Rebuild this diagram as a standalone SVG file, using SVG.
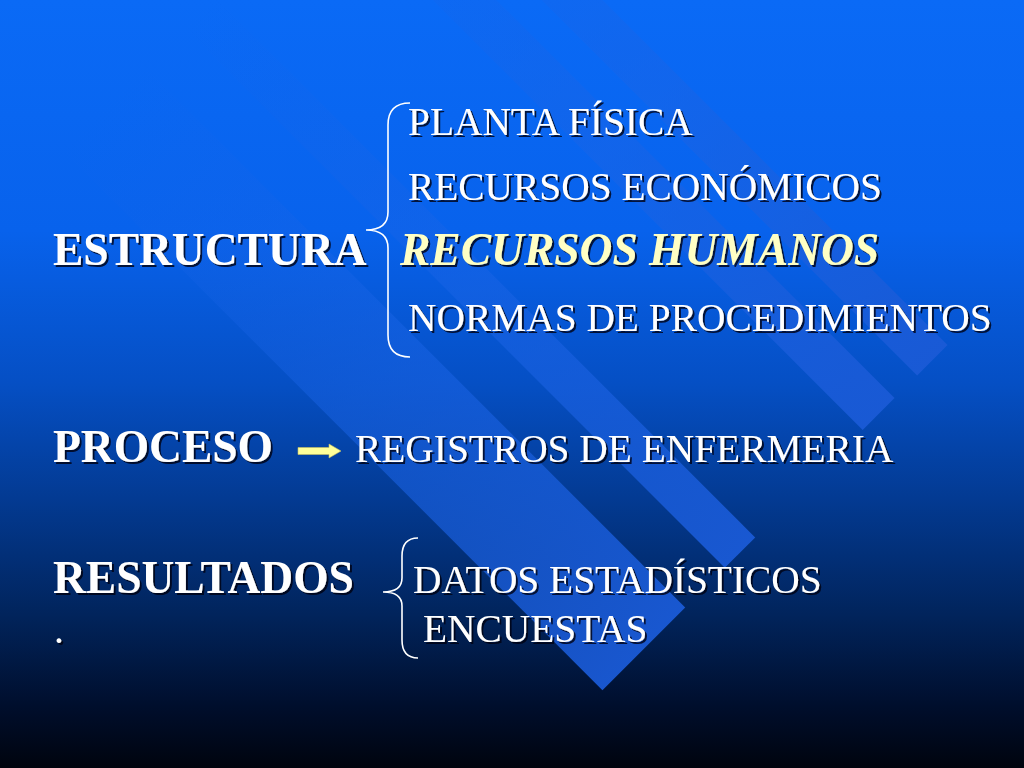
<svg xmlns="http://www.w3.org/2000/svg" width="1024" height="768" viewBox="0 0 1024 768">
<defs>
<linearGradient id="bg" x1="0" y1="0" x2="0" y2="1">
<stop offset="0" stop-color="#0a6af6"/>
<stop offset="0.3" stop-color="#0862ec"/>
<stop offset="0.5" stop-color="#054fc4"/>
<stop offset="0.65" stop-color="#033a92"/>
<stop offset="0.8" stop-color="#01245c"/>
<stop offset="0.92" stop-color="#000e2c"/>
<stop offset="1" stop-color="#00040e"/>
</linearGradient>
<linearGradient id="band" gradientUnits="userSpaceOnUse" x1="150" y1="0" x2="914" y2="0">
<stop offset="0" stop-color="#1a64e6" stop-opacity="0"/>
<stop offset="0.5" stop-color="#1a64e6" stop-opacity="0.5"/>
<stop offset="1" stop-color="#1a5ad6" stop-opacity="0.95"/>
</linearGradient>
<filter id="sh" x="-5%" y="-20%" width="110%" height="140%">
<feDropShadow dx="2" dy="2" stdDeviation="0.6" flood-color="#000010" flood-opacity="0.8"/>
</filter>
<style>
.b{font-family:"Liberation Serif","Times New Roman",serif;font-weight:bold;font-size:45.5px;fill:#fff}
.r{font-family:"Liberation Serif","Times New Roman",serif;font-size:39.4px;fill:#fff}
.y{font-family:"Liberation Serif","Times New Roman",serif;font-weight:bold;font-style:italic;font-size:45.5px;fill:#ffffc4}
.br{fill:none;stroke:#fff;stroke-width:1.6}
</style>
</defs>
<rect width="1024" height="768" fill="url(#bg)"/>
<g id="stripes" transform="rotate(45)">
<rect x="-100" y="-55" width="1014" height="117" fill="url(#band)"/>
<rect x="-100" y="-154" width="1014" height="43" fill="url(#band)"/>
<rect x="-100" y="-351" width="1014" height="45" fill="url(#band)"/>
<rect x="-100" y="-426" width="1014" height="43" fill="url(#band)"/>
</g>
<g filter="url(#sh)">
<g id="estructura"><text class="b" x="53" y="265">ESTRUCTURA</text></g>
<g id="planta"><text class="r" x="408" y="135">PLANTA FÍSICA</text></g>
<g id="economicos"><text class="r" x="408" y="200">RECURSOS ECONÓMICOS</text></g>
<g id="humanos"><text class="y" x="400" y="265">RECURSOS HUMANOS</text></g>
<g id="normas"><text class="r" x="408" y="331">NORMAS DE PROCEDIMIENTOS</text></g>
<g id="proceso"><text class="b" x="53" y="462">PROCESO</text></g>
<g id="registros"><text class="r" x="355" y="462">REGISTROS DE ENFERMERIA</text></g>
<g id="resultados"><text class="b" x="53" y="593">RESULTADOS</text></g>
<g id="punto"><text class="r" x="54" y="643">.</text></g>
<g id="datos"><text class="r" x="413" y="593">DATOS ESTADÍSTICOS</text></g>
<g id="encuestas"><text class="r" x="423" y="642">ENCUESTAS</text></g>
</g>
<g id="connectors">
<path class="br" d="M410,103 Q388,103 388,125 L388,212 Q388,230 366,230 Q388,230 388,248 L388,335 Q388,357 410,357"/>
<path class="br" d="M418,538 Q402,538 402,556 L402,578 Q402,592 383,592 Q402,592 402,606 L402,640 Q402,658 418,658"/>
<polygon points="298,447.5 329,447.5 329,444 341,451 329,458 329,454.5 298,454.5" fill="#ffff99" stroke="#c8c060" stroke-width="0.6"/>
</g>
</svg>
